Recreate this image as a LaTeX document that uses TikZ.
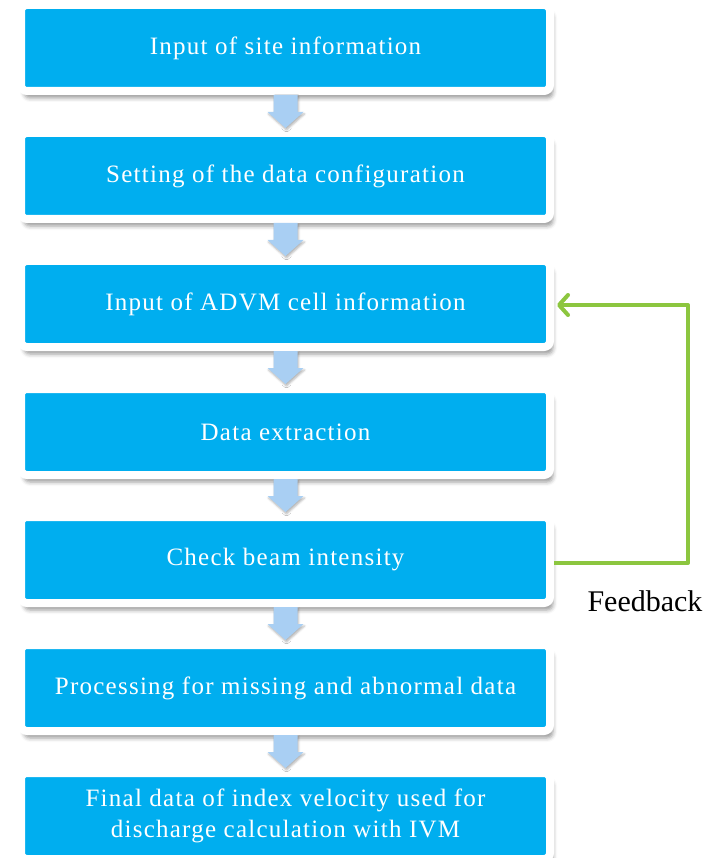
\documentclass[tikz,border=0pt]{standalone}
\usepackage{fontspec}
\setmainfont{Liberation Serif}
\newfontfamily\stepfont{Liberation Serif}[LetterSpace=5]
\usetikzlibrary{positioning, calc, arrows.meta, shadows.blur}

\definecolor{stepblue}{HTML}{00AEEF}
\definecolor{arrowblue}{HTML}{A9CFF3}
\definecolor{loopgreen}{HTML}{8CC63F}

\tikzset{
	stepbox/.style={fill=stepblue, draw=white, line width=8pt, rounded corners=6pt,
		minimum width=529pt, minimum height=86pt, outer sep=4pt,
		text=white, align=center, font=\stepfont\fontsize{25}{31}\selectfont,
		blur shadow={shadow xshift=3pt, shadow yshift=-7pt, shadow blur radius=4pt, shadow opacity=40}},
	flowarrow/.style={fill=arrowblue,
		blur shadow={shadow xshift=1pt, shadow yshift=-2pt, shadow blur radius=2pt, shadow opacity=30}},
	feedback/.style={draw=loopgreen, line width=4pt, line join=round,
		-{Straight Barb[length=9pt, width=20pt, round]}, shorten >=3pt},
}

\begin{document}
\begin{tikzpicture}[x=1pt, y=-1pt]
		\useasboundingbox (0,0) rectangle (721,858);
		
		\node[stepbox] (s1) at (285.5,48) {Input of site information};
		\node[stepbox, below=34pt of s1] (s2) {Setting of the data configuration};
		\node[stepbox, below=34pt of s2] (s3) {Input of ADVM cell information};
		\node[stepbox, below=34pt of s3] (s4) {Data extraction};
		\node[stepbox, below=34pt of s4] (s5) {Check beam intensity};
		\node[stepbox, below=34pt of s5] (s6) {Processing for missing and abnormal data};
		\node[stepbox, below=34pt of s6] (s7) {Final data of index velocity used for\\discharge calculation with IVM};
		
		% block arrows between the steps
		\foreach \i [count=\j from 2] in {1,...,6}
			\fill[flowarrow] let \p1=(s\i.south), \p2=(s\j.north) in
				(\x1-12pt,\y1) -- (\x1+12pt,\y1) -- (\x1+12pt,\y1-17pt) -- (\x1+18pt,\y1-17pt)
				-- (\x1,\y2+1pt) -- (\x1-18pt,\y1-17pt) -- (\x1-12pt,\y1-17pt) -- cycle;
		
		% loop back from the beam check
		\draw[feedback] ([yshift=-3pt]s5.east) -- ++(134,0) coordinate (fbcorner) |- ([yshift=-1pt]s3.east);
		\node[font=\fontsize{30}{36}\selectfont] (fb) at ($(fbcorner)+(-43,38)$) {Feedback};
	\end{tikzpicture}
\end{document}
